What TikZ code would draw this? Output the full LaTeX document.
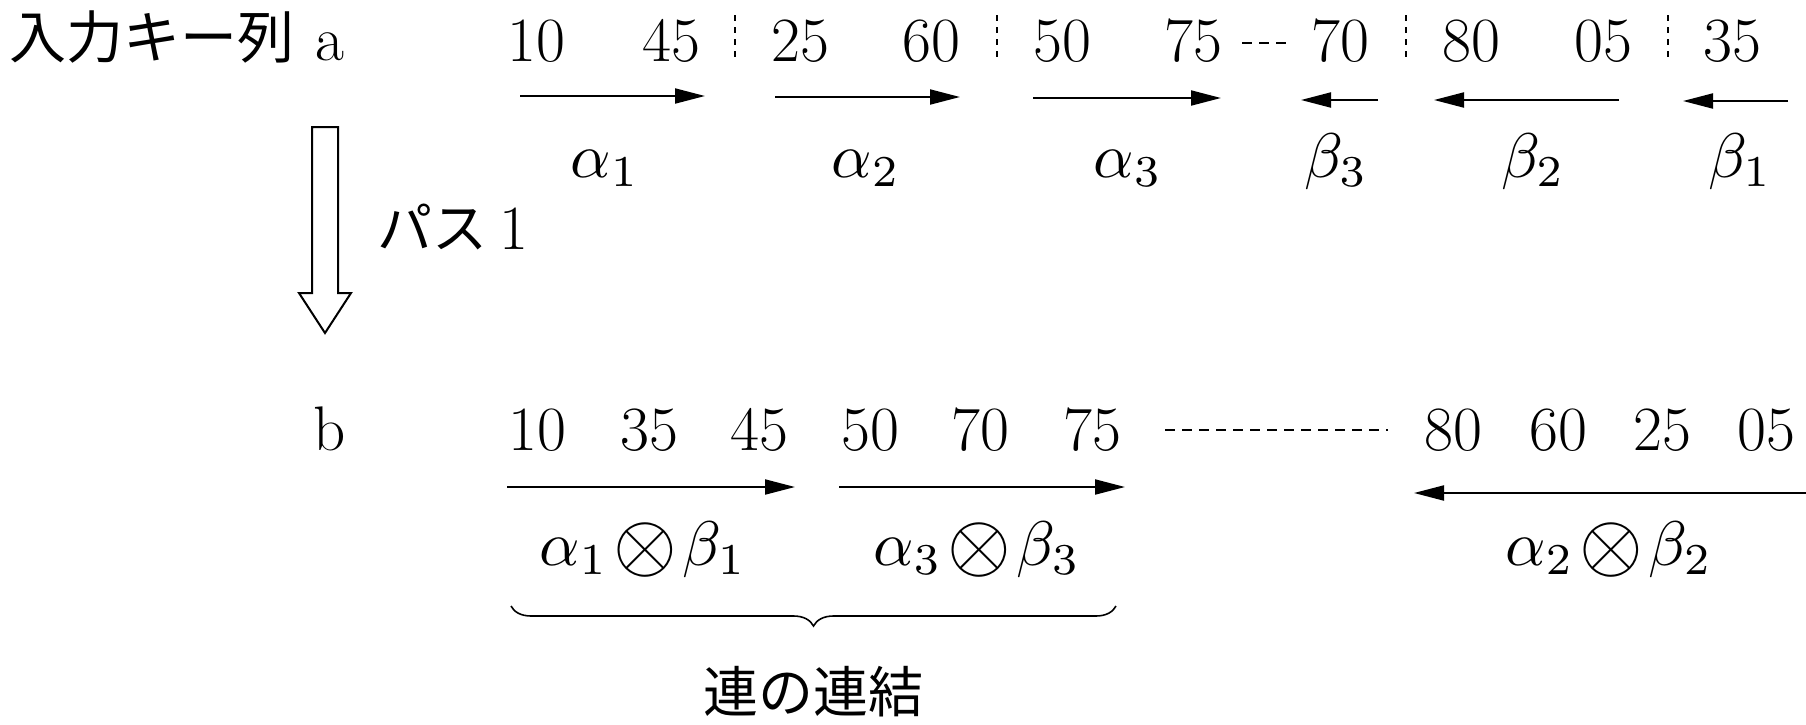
\documentclass[tikz,border=0pt]{standalone}
\usepackage{fontspec}
\newfontfamily\jpfont{Noto Sans CJK JP}
\usetikzlibrary{arrows.meta,decorations.pathreplacing}
\newcommand{\mth}[1]{\scalebox{3.15}{$#1$}}
\newcommand{\bigox}{\mskip1.5mu\mathord{\raisebox{-0.9pt}{\scalebox{1.3}{$\otimes$}}}\mskip1.5mu}
\begin{document}
\begin{tikzpicture}[x=0.5pt,y=-0.5pt,
  num/.style={anchor=base, inner sep=0pt, font=\fontsize{31.5}{36}\selectfont},
  mathlbl/.style={anchor=base, inner sep=0pt, font=\normalsize},
  jp/.style={anchor=base, inner sep=0pt, font=\fontsize{27.5}{32}\selectfont\jpfont},
  run/.style={line width=1pt, -{Triangle[length=15pt,width=7.5pt]}},
  sep/.style={line width=0.8pt, dash pattern=on 3pt off 3pt},
  hdash/.style={line width=0.8pt, dash pattern=on 5pt off 3.5pt},
  hollow/.style={line width=1pt},
  bracestyle/.style={line width=0.8pt, decorate, decoration={brace, mirror, amplitude=10pt}}
  ]
\useasboundingbox (0,0) rectangle (1806,724);
% left labels
\node[jp, anchor=base west, font=\fontsize{28.5}{34}\selectfont\jpfont] (inlbl) at (9,58) {入力キー列};
\node[num] (la) at (330,60) {a};
\node[jp, anchor=base west] (pass) at (377,248) {パス};
\node[num] (pass1) at (514,249) {1};
\node[num] (lb) at (330,450) {b};
% hollow arrow
\draw[hollow] (312,127) -- (338,127) -- (338,293) -- (351,293) -- (325,333) -- (299,293) -- (312,293) -- cycle;
% top row keys
\node[num] (t1) at (536,61) {10};
\node[num] (t2) at (671,61) {45};
\node[num] (t3) at (800,61) {25};
\node[num] (t4) at (931,61) {60};
\node[num] (t5) at (1062,61) {50};
\node[num] (t6) at (1193,61) {75};
\node[num] (t7) at (1340,61) {70};
\node[num] (t8) at (1471,61) {80};
\node[num] (t9) at (1603,61) {05};
\node[num] (t10) at (1732,61) {35};
% separators
\coordinate (s1a) at (735,15); \coordinate (s1b) at (735,62);
\coordinate (s2a) at (997,15); \coordinate (s2b) at (997,62);
\coordinate (s3a) at (1406,15); \coordinate (s3b) at (1406,62);
\coordinate (s4a) at (1668,15); \coordinate (s4b) at (1668,62);
\draw[sep] (s1a) -- (s1b);
\draw[sep] (s2a) -- (s2b);
\draw[sep] (s3a) -- (s3b);
\draw[sep] (s4a) -- (s4b);
\coordinate (d1a) at (1242,43); \coordinate (d1b) at (1290,43);
\draw[hdash] (d1a) -- (d1b);
% top run arrows
\coordinate (a1s) at (520,96);  \coordinate (a1e) at (705,96);
\coordinate (a2s) at (775,97);  \coordinate (a2e) at (960,97);
\coordinate (a3s) at (1033,98); \coordinate (a3e) at (1221,98);
\coordinate (b3s) at (1378,100); \coordinate (b3e) at (1301,100);
\coordinate (b2s) at (1619,100); \coordinate (b2e) at (1434,100);
\coordinate (b1s) at (1788,101); \coordinate (b1e) at (1683,101);
\draw[run] (a1s) -- (a1e);
\draw[run] (a2s) -- (a2e);
\draw[run] (a3s) -- (a3e);
\draw[run] (b3s) -- (b3e);
\draw[run] (b2s) -- (b2e);
\draw[run] (b1s) -- (b1e);
% top labels
\node[mathlbl] (la1) at (605,177) {\mth{\alpha_1}};
\node[mathlbl] (la2) at (866,177) {\mth{\alpha_2}};
\node[mathlbl] (la3) at (1128,177) {\mth{\alpha_3}};
\node[mathlbl] (lb3) at (1336,177) {\mth{\beta_3}};
\node[mathlbl] (lb2) at (1533,177) {\mth{\beta_2}};
\node[mathlbl] (lb1) at (1740,177) {\mth{\beta_1}};
% bottom row keys
\node[num] (u1) at (537,450) {10};
\node[num] (u2) at (649,450) {35};
\node[num] (u3) at (759,450) {45};
\node[num] (u4) at (870,450) {50};
\node[num] (u5) at (980,450) {70};
\node[num] (u6) at (1092,450) {75};
\node[num] (u7) at (1453,450) {80};
\node[num] (u8) at (1558,450) {60};
\node[num] (u9) at (1662,450) {25};
\node[num] (u10) at (1766,450) {05};
\coordinate (d2a) at (1165,430); \coordinate (d2b) at (1388,430);
\draw[hdash] (d2a) -- (d2b);
% bottom run arrows
\coordinate (c1s) at (507,487);  \coordinate (c1e) at (795,487);
\coordinate (c2s) at (839,487);  \coordinate (c2e) at (1125,487);
\coordinate (c3s) at (1806,493); \coordinate (c3e) at (1414,493);
\draw[run] (c1s) -- (c1e);
\draw[run] (c2s) -- (c2e);
\draw[run] (c3s) -- (c3e);
% bottom labels
\node[mathlbl] (m1) at (643,565) {\mth{\alpha_1\bigox\beta_1}};
\node[mathlbl] (m3) at (977,565) {\mth{\alpha_3\bigox\beta_3}};
\node[mathlbl] (m2) at (1609,565) {\mth{\alpha_2\bigox\beta_2}};
% brace
\coordinate (br1) at (511,606); \coordinate (br2) at (1116,606);
\draw[bracestyle] (br1) -- (br2);
\node[jp] (concat) at (813,712) {連の連結};
\end{tikzpicture}
\end{document}
